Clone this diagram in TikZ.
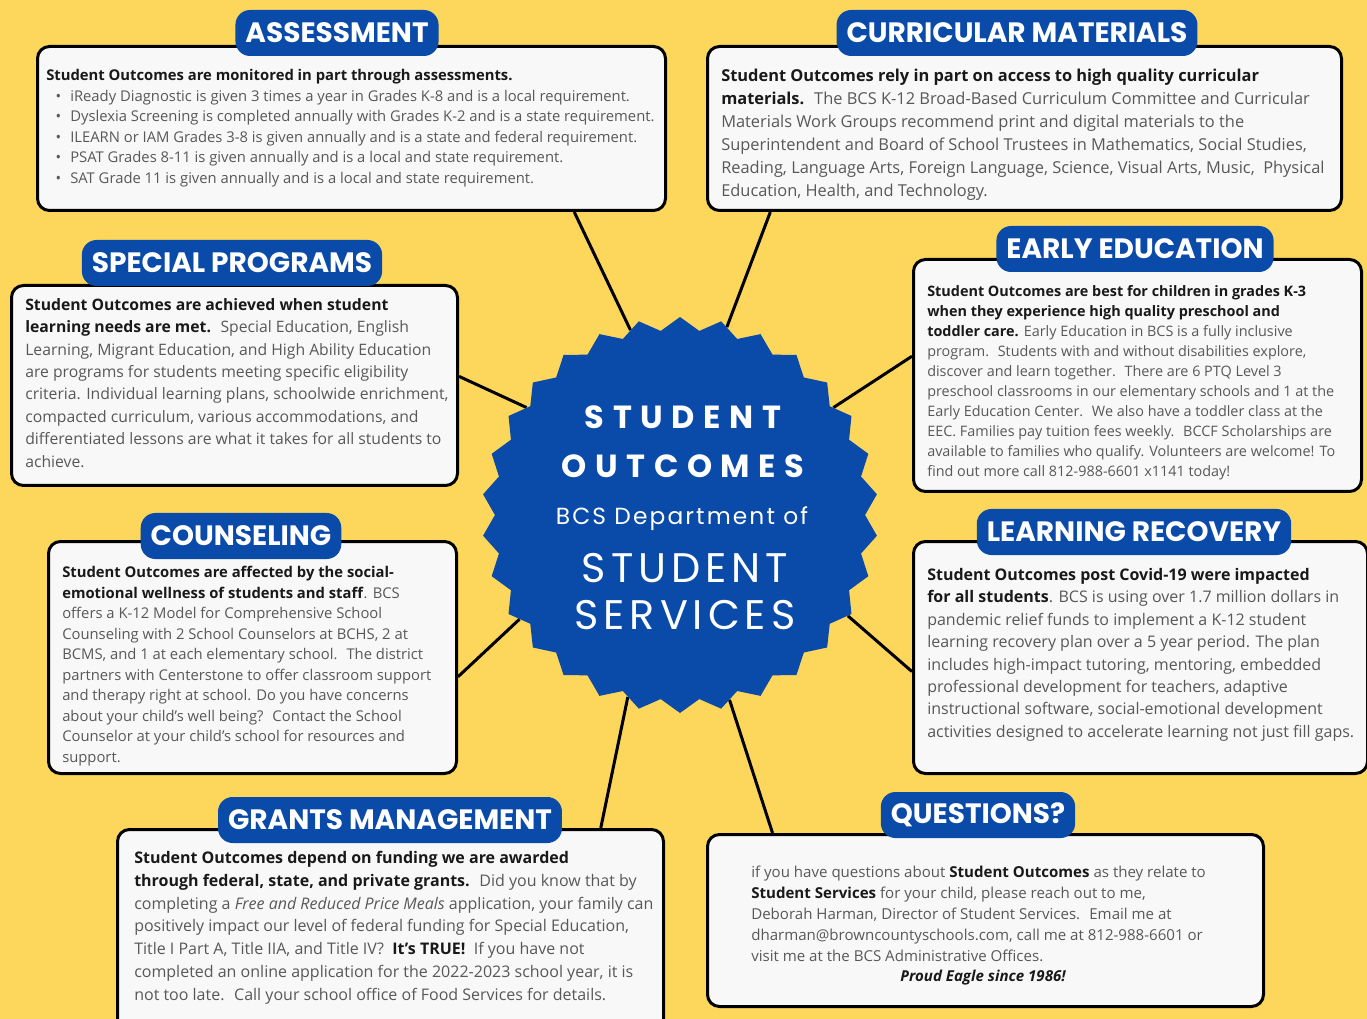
\documentclass[tikz,border=0pt]{standalone}
\usepackage{fontspec}
\setmainfont{Open Sans}
\newfontfamily\headfont{Poppins}
\newfontfamily\spacedfont{Poppins}[LetterSpace=27]
\newfontfamily\deptfont{Poppins}[LetterSpace=9]
\newfontfamily\svcfont{Poppins}[LetterSpace=12]
\usepackage{xcolor}
\usetikzlibrary{calc}
\usetikzlibrary{positioning}
\usetikzlibrary{shapes.geometric, backgrounds}
\definecolor{sunny}{RGB}{253,215,92}
\definecolor{bcsblue}{RGB}{10,74,168}
\definecolor{paper}{RGB}{248,248,248}
\definecolor{graytext}{RGB}{88,88,88}
\definecolor{inktext}{RGB}{25,25,25}
\newcommand{\bld}[1]{\textcolor{inktext}{\textbf{#1}}}
\newcommand{\itm}{\hspace*{7pt}\makebox[11pt][l]{\textbullet}}

\begin{document}
\begin{tikzpicture}[x=0.75pt, y=-0.75pt, line join=round]
    \tikzstyle{box}=[draw=black, line width=2.25pt, fill=paper, rounded corners=9pt, anchor=north west, inner sep=0pt]
    \tikzstyle{tab}=[fill=bcsblue, rounded corners=11pt, text=white, font=\headfont\bfseries\fontsize{21}{22}\selectfont, minimum height=34.5pt, inner xsep=7.5pt]
    \tikzstyle{txt}=[anchor=north west, align=left, inner sep=0pt, text=graytext]
    \tikzstyle{link}=[draw=black, line width=2.25pt]

    \useasboundingbox (0,0) rectangle (1367,1019);

    % centre badge
    \node[star, star points=30, star point ratio=1.07, minimum size=297pt, fill=bcsblue, inner sep=0pt] (core) at (680,515) {};
    \node[text=white, align=center, font=\spacedfont\bfseries\fontsize{24}{36.75}\selectfont] (ttl) at ($(core.center)+(3,-73)$) {STUDENT\\OUTCOMES};
    \node[text=white, font=\deptfont\fontsize{17.5}{20}\selectfont] (dept) at ($(core.center)+(2,4)$) {BCS Department of};
    \node[text=white, align=center, font=\svcfont\fontsize{31}{35.25}\selectfont] (svc) at ($(core.center)+(5,77)$) {STUDENT\\SERVICES};

    % boxes
    \node[box, minimum width=471pt, minimum height=123pt] (assess) at (36,45) {};
    \node[box, minimum width=475.5pt, minimum height=123pt] (curric) at (706,45) {};
    \node[box, minimum width=334.5pt, minimum height=150pt] (special) at (10,284) {};
    \node[box, minimum width=336pt, minimum height=174pt] (early) at (912,258) {};
    \node[box, minimum width=306pt, minimum height=174pt] (counsel) at (47,540) {};
    \node[box, minimum width=340.5pt, minimum height=174pt] (recover) at (912,540) {};
    \node[box, minimum width=409.5pt, minimum height=156pt] (grants) at (116,828) {};
    \node[box, minimum width=417pt, minimum height=129pt] (quest) at (706,833) {};

    % headings
    \node[tab] (assesstab) at (337,33) {ASSESSMENT};
    \node[tab] (currictab) at (1017,33) {CURRICULAR MATERIALS};
    \node[tab] (specialtab) at (232,263) {SPECIAL PROGRAMS};
    \node[tab] (earlytab) at (1135,249) {EARLY EDUCATION};
    \node[tab] (counseltab) at (241,536) {COUNSELING};
    \node[tab] (recovertab) at (1134,532) {LEARNING RECOVERY};
    \node[tab] (grantstab) at (390,820) {GRANTS MANAGEMENT};
    \node[tab] (questtab) at (978,815) {QUESTIONS?};

    % texts
    \node[txt, font=\fontsize{11.1}{15.4}\selectfont] (assesstxt) at ($(assess.north west)+(10,24)$) {%
        \bld{Student Outcomes are monitored in part through assessments.}\\
        \itm iReady Diagnostic is given 3 times a year in Grades K-8 and is a local requirement.\\
        \itm Dyslexia Screening is completed annually with Grades K-2 and is a state requirement.\\
        \itm ILEARN or IAM Grades 3-8 is given annually and is a state and federal requirement.\\
        \itm PSAT Grades 8-11 is given annually and is a local and state requirement.\\
        \itm SAT Grade 11 is given annually and is a local and state requirement.};
    \node[txt, font=\fontsize{12.3}{17.25}\selectfont] (currictxt) at ($(curric.north west)+(15,24)$) {%
        \bld{Student Outcomes rely in part on access to high quality curricular}\\
        \bld{materials.}~ The BCS K-12 Broad-Based Curriculum Committee and Curricular\\
        Materials Work Groups recommend print and digital materials to the\\
        Superintendent and Board of School Trustees in Mathematics, Social Studies,\\
        Reading, Language Arts, Foreign Language, Science, Visual Arts, Music,~ Physical\\
        Education, Health, and Technology.};
    \node[txt, font=\fontsize{11.8}{16.8}\selectfont] (specialtxt) at ($(special.north west)+(15,14)$) {%
        \bld{Student Outcomes are achieved when student}\\
        \bld{learning needs are met.}~ Special Education, English\\
        Learning, Migrant Education, and High Ability Education\\
        are programs for students meeting specific eligibility\\
        criteria. Individual learning plans, schoolwide enrichment,\\
        compacted curriculum, various accommodations, and\\
        differentiated lessons are what it takes for all students to\\
        achieve.};
    \node[txt, font=\fontsize{10.8}{15}\selectfont] (earlytxt) at ($(early.north west)+(15,27)$) {%
        \bld{Student Outcomes are best for children in grades K-3}\\
        \bld{when they experience high quality preschool and}\\
        \bld{toddler care.} Early Education in BCS is a fully inclusive\\
        program.~ Students with and without disabilities explore,\\
        discover and learn together.~ There are 6 PTQ Level 3\\
        preschool classrooms in our elementary schools and 1 at the\\
        Early Education Center.~ We also have a toddler class at the\\
        EEC. Families pay tuition fees weekly.~ BCCF Scholarships are\\
        available to families who qualify. Volunteers are welcome! To\\
        find out more call 812-988-6601 x1141 today!};
    \node[txt, font=\fontsize{11.1}{15.4}\selectfont] (counseltxt) at ($(counsel.north west)+(15,26)$) {%
        \bld{Student Outcomes are affected by the social-}\\
        \bld{emotional wellness of students and staff}. BCS\\
        offers a K-12 Model for Comprehensive School\\
        Counseling with 2 School Counselors at BCHS, 2 at\\
        BCMS, and 1 at each elementary school.~ The district\\
        partners with Centerstone to offer classroom support\\
        and therapy right at school. Do you have concerns\\
        about your child's well being?~ Contact the School\\
        Counselor at your child's school for resources and\\
        support.};
    \node[txt, font=\fontsize{12}{16.8}\selectfont] (recovertxt) at ($(recover.north west)+(15,28)$) {%
        \bld{Student Outcomes post Covid-19 were impacted}\\
        \bld{for all students}. BCS is using over 1.7 million dollars in\\
        pandemic relief funds to implement a K-12 student\\
        learning recovery plan over a 5 year period. The plan\\
        includes high-impact tutoring, mentoring, embedded\\
        professional development for teachers, adaptive\\
        instructional software, social-emotional development\\
        activities designed to accelerate learning not just fill gaps.};
    \node[txt, font=\fontsize{12}{17.1}\selectfont] (grantstxt) at ($(grants.north west)+(18,23)$) {%
        \bld{Student Outcomes depend on funding we are awarded}\\
        \bld{through federal, state, and private grants.}~ Did you know that by\\
        completing a \textit{Free and Reduced Price Meals} application, your family can\\
        positively impact our level of federal funding for Special Education,\\
        Title I Part A, Title IIA, and Title IV?~ \bld{It's TRUE!}~ If you have not\\
        completed an online application for the 2022-2023 school year, it is\\
        not too late.~ Call your school office of Food Services for details.};
    \node[txt, font=\fontsize{11.3}{15.75}\selectfont] (questtxt) at ($(quest.north west)+(45,33)$) {%
        if you have questions about \bld{Student Outcomes} as they relate to\\
        \bld{Student Services} for your child, please reach out to me,\\
        Deborah Harman, Director of Student Services.~ Email me at\\
        dharman@browncountyschools.com, call me at 812-988-6601 or\\
        visit me at the BCS Administrative Offices.};
    \node[text=inktext, font=\bfseries\itshape\fontsize{11.3}{14}\selectfont] (eagle) at (983,978) {Proud Eagle since 1986!};

    % backdrop and spokes
    \begin{scope}[on background layer]
        \fill[sunny] (0,0) rectangle (1367,1019);
        \draw[link] ($(assess.south west)!0.853!(assess.south east)$) -- (core.105);
        \draw[link] ($(curric.south west)!0.101!(curric.south east)$) -- (core.76);
        \draw[link] ($(special.north east)!0.455!(special.south east)$) -- (core.145);
        \draw[link] ($(early.north west)!0.418!(early.south west)$) -- (core.35);
        \draw[link] ($(counsel.north east)!0.582!(counsel.south east)$) -- (core.213);
        \draw[link] ($(recover.north west)!0.56!(recover.south west)$) -- (core.329);
        \draw[link] ($(grants.north west)!0.883!(grants.north east)$) -- (core.254);
        \draw[link] ($(quest.north west)!0.119!(quest.north east)$) -- (core.285);
    \end{scope}
\end{tikzpicture}
\end{document}
